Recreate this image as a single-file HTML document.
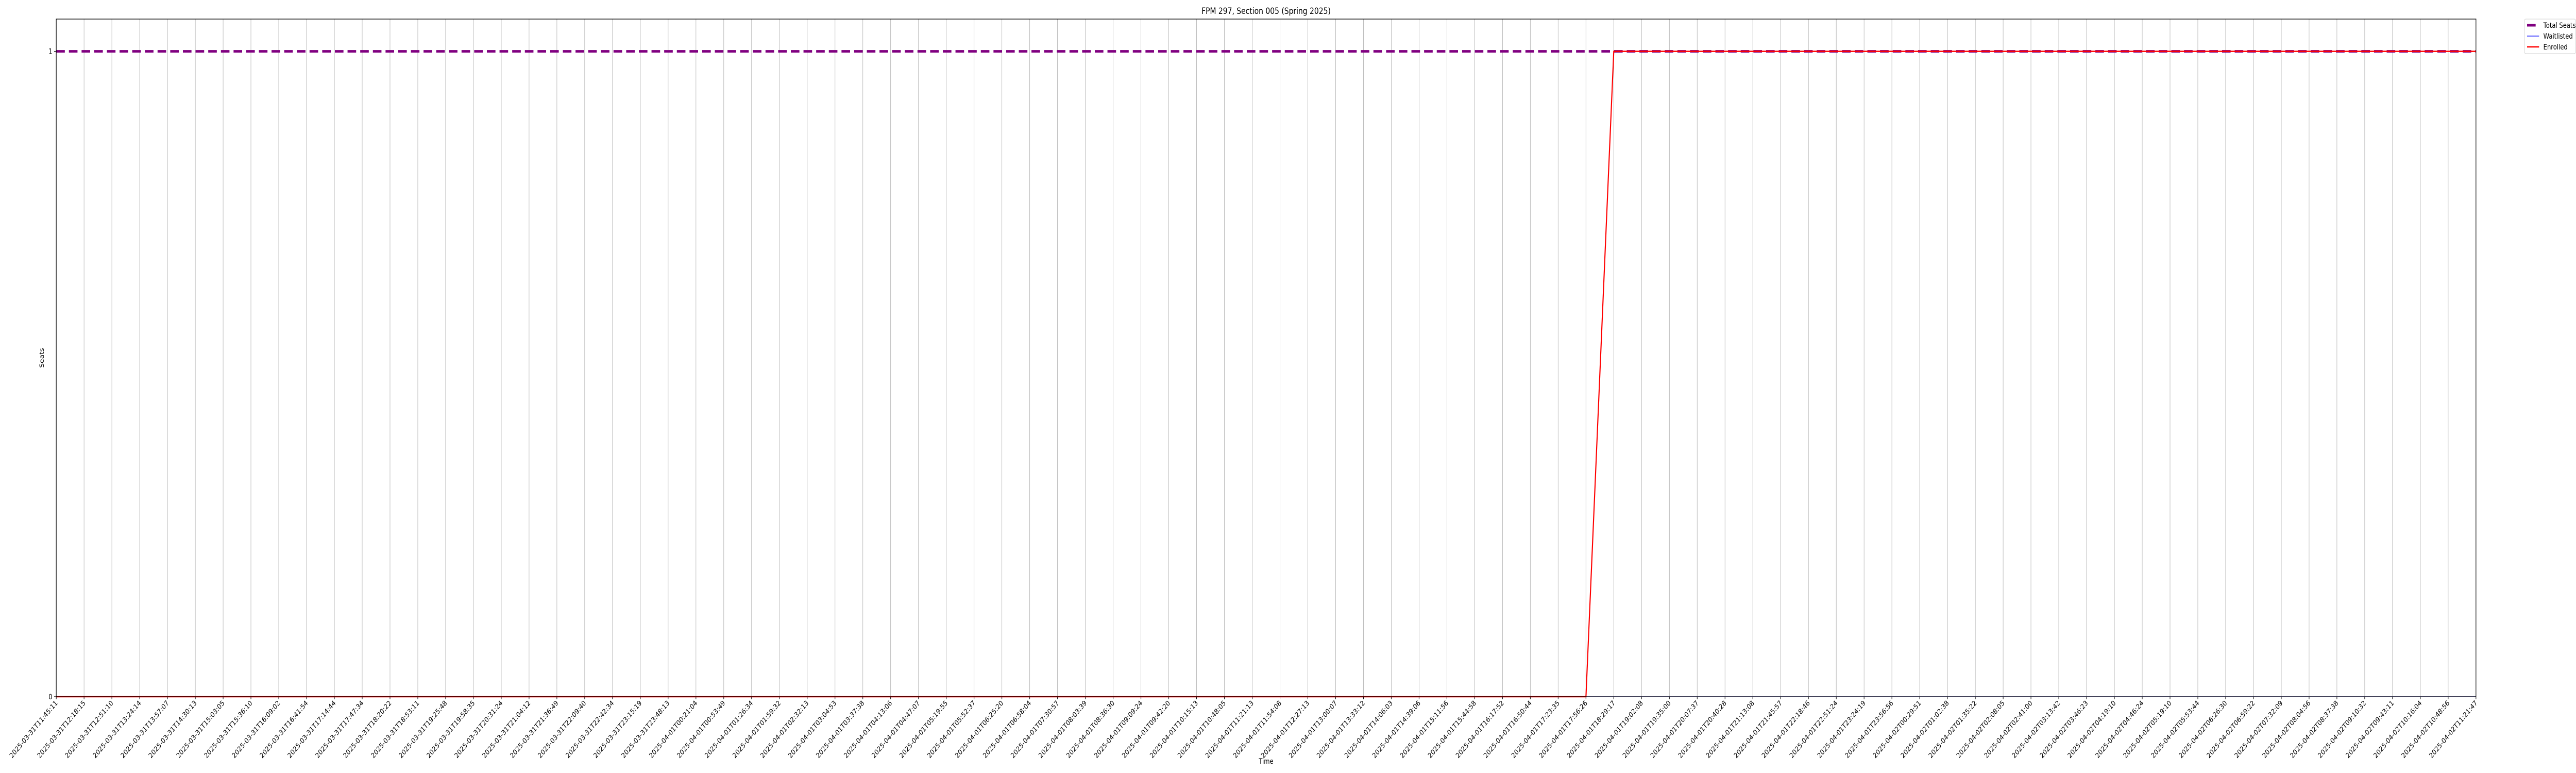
<!DOCTYPE html>
<html><head><meta charset="utf-8"><meta name="viewport" content="width=6000, initial-scale=1"><style>
html,body{margin:0;padding:0;background:#fff;width:100%;height:100%;overflow:hidden;}
svg{display:block;position:fixed;left:0;top:0;width:100vw;height:100vh;font-family:"DejaVu Sans","Liberation Sans",sans-serif;}
</style></head><body>
<svg id="chart" viewBox="0 0 6000 1500" preserveAspectRatio="none" overflow="hidden" xmlns="http://www.w3.org/2000/svg">
<rect width="6000" height="1500" fill="#fff"/>
<text x="2949" y="27" font-size="16.7" text-anchor="middle">FPM 297, Section 005 (Spring 2025)</text>
<g id="grid"></g>
<g id="series"></g>
<rect x="131" y="37" width="5636" height="1315" fill="none" stroke="#000" stroke-width="1.3"/>
<g id="xticks"></g>
<g id="yticks"></g>
<text x="2949" y="1482" font-size="13.9" text-anchor="middle">Time</text>
<text transform="translate(102,694.5) rotate(-90)" font-size="13.9" text-anchor="middle">Seats</text>
<g>
<rect x="5880" y="37" width="119" height="67" rx="3" fill="#fff" stroke="#d0d0d0" stroke-width="1"/>
<line x1="5886" y1="49" x2="5906" y2="49" stroke="#800080" stroke-width="5"/>
<text x="5924" y="54" font-size="13.9">Total Seats</text>
<line x1="5886" y1="70" x2="5914" y2="70" stroke="#0000ff" stroke-width="1.3"/>
<text x="5924" y="75" font-size="13.9">Waitlisted</text>
<line x1="5886" y1="91" x2="5914" y2="91" stroke="#ff0000" stroke-width="2.6"/>
<text x="5924" y="96" font-size="13.9">Enrolled</text>
</g>
</svg>
<script>
const timeLabels = ["2025-03-31T11:45:11","2025-03-31T12:18:15","2025-03-31T12:51:10","2025-03-31T13:24:14","2025-03-31T13:57:07","2025-03-31T14:30:13","2025-03-31T15:03:05","2025-03-31T15:36:10","2025-03-31T16:09:02","2025-03-31T16:41:54","2025-03-31T17:14:44","2025-03-31T17:47:34","2025-03-31T18:20:22","2025-03-31T18:53:11","2025-03-31T19:25:48","2025-03-31T19:58:35","2025-03-31T20:31:24","2025-03-31T21:04:12","2025-03-31T21:36:49","2025-03-31T22:09:40","2025-03-31T22:42:34","2025-03-31T23:15:19","2025-03-31T23:48:13","2025-04-01T00:21:04","2025-04-01T00:53:49","2025-04-01T01:26:34","2025-04-01T01:59:32","2025-04-01T02:32:13","2025-04-01T03:04:53","2025-04-01T03:37:38","2025-04-01T04:13:06","2025-04-01T04:47:07","2025-04-01T05:19:55","2025-04-01T05:52:37","2025-04-01T06:25:20","2025-04-01T06:58:04","2025-04-01T07:30:57","2025-04-01T08:03:39","2025-04-01T08:36:30","2025-04-01T09:09:24","2025-04-01T09:42:20","2025-04-01T10:15:13","2025-04-01T10:48:05","2025-04-01T11:21:13","2025-04-01T11:54:08","2025-04-01T12:27:13","2025-04-01T13:00:07","2025-04-01T13:33:12","2025-04-01T14:06:03","2025-04-01T14:39:06","2025-04-01T15:11:56","2025-04-01T15:44:58","2025-04-01T16:17:52","2025-04-01T16:50:44","2025-04-01T17:23:35","2025-04-01T17:56:26","2025-04-01T18:29:17","2025-04-01T19:02:08","2025-04-01T19:35:00","2025-04-01T20:07:37","2025-04-01T20:40:28","2025-04-01T21:13:08","2025-04-01T21:45:57","2025-04-01T22:18:46","2025-04-01T22:51:24","2025-04-01T23:24:19","2025-04-01T23:56:56","2025-04-02T00:29:51","2025-04-02T01:02:38","2025-04-02T01:35:22","2025-04-02T02:08:05","2025-04-02T02:41:00","2025-04-02T03:13:42","2025-04-02T03:46:23","2025-04-02T04:19:10","2025-04-02T04:46:24","2025-04-02T05:19:10","2025-04-02T05:53:44","2025-04-02T06:26:30","2025-04-02T06:59:22","2025-04-02T07:32:09","2025-04-02T08:04:56","2025-04-02T08:37:38","2025-04-02T09:10:32","2025-04-02T09:43:11","2025-04-02T10:16:04","2025-04-02T10:48:56","2025-04-02T11:21:47"];
const totalSeats = [1,1,1,1,1,1,1,1,1,1,1,1,1,1,1,1,1,1,1,1,1,1,1,1,1,1,1,1,1,1,1,1,1,1,1,1,1,1,1,1,1,1,1,1,1,1,1,1,1,1,1,1,1,1,1,1,1,1,1,1,1,1,1,1,1,1,1,1,1,1,1,1,1,1,1,1,1,1,1,1,1,1,1,1,1,1,1,1];
const waitlisted = [0,0,0,0,0,0,0,0,0,0,0,0,0,0,0,0,0,0,0,0,0,0,0,0,0,0,0,0,0,0,0,0,0,0,0,0,0,0,0,0,0,0,0,0,0,0,0,0,0,0,0,0,0,0,0,0,0,0,0,0,0,0,0,0,0,0,0,0,0,0,0,0,0,0,0,0,0,0,0,0,0,0,0,0,0,0,0,0];
const enrolled = [0,0,0,0,0,0,0,0,0,0,0,0,0,0,0,0,0,0,0,0,0,0,0,0,0,0,0,0,0,0,0,0,0,0,0,0,0,0,0,0,0,0,0,0,0,0,0,0,0,0,0,0,0,0,0,0,1,1,1,1,1,1,1,1,1,1,1,1,1,1,1,1,1,1,1,1,1,1,1,1,1,1,1,1,1,1,1,1];
const yTicks = [0,1];

const NS="http://www.w3.org/2000/svg";
const X0=131,X1=5767,Y0=1352,Y1=37,YMAX=1.05;
const n=timeLabels.length;
function xs(i){return X0+(X1-X0)*i/(n-1);}
function ys(v){return Y0-(Y0-Y1)*v/YMAX;}
function mk(tag,attrs,parent){const e=document.createElementNS(NS,tag);for(const k in attrs)e.setAttribute(k,attrs[k]);parent.appendChild(e);return e;}
const grid=document.getElementById('grid'),xt=document.getElementById('xticks'),yt=document.getElementById('yticks'),ser=document.getElementById('series');
timeLabels.forEach((lab,i)=>{
  const x=xs(i);
  const g=mk('line',{x1:x,y1:Y1,x2:x,y2:Y0,stroke:'#b0b0b0','stroke-width':1},grid);
  
  
  const t=mk('line',{x1:x,y1:Y0,x2:x,y2:Y0+5,stroke:'#000','stroke-width':1.2},xt);
  
  
  const tx=mk('text',{x:0,y:0,'font-size':13.9,'text-anchor':'end',transform:`translate(${x+4},${Y0+13}) rotate(-45)`},xt);
  tx.textContent=lab;
  
  
});
yTicks.forEach(v=>{
  const y=ys(v);
  const t=mk('line',{x1:X0-5,y1:y,x2:X0,y2:y,stroke:'#000','stroke-width':1.2},yt);
  
  
  const tx=mk('text',{x:X0-9,y:y+5,'font-size':13.9,'text-anchor':'end'},yt);
  tx.textContent=String(v);
  
  
});
function pts(arr){return arr.map((v,i)=>xs(i)+','+ys(v)).join(' ');}
const p1=mk('polyline',{points:pts(totalSeats),fill:'none',stroke:'#800080','stroke-width':5,'stroke-dasharray':'20,9.5'},ser);


const p2=mk('polyline',{points:pts(waitlisted),fill:'none',stroke:'#0000ff','stroke-width':1.3},ser);


const p3=mk('polyline',{points:pts(enrolled),fill:'none',stroke:'#ff0000','stroke-width':2.6},ser);


</script>
</body></html>
